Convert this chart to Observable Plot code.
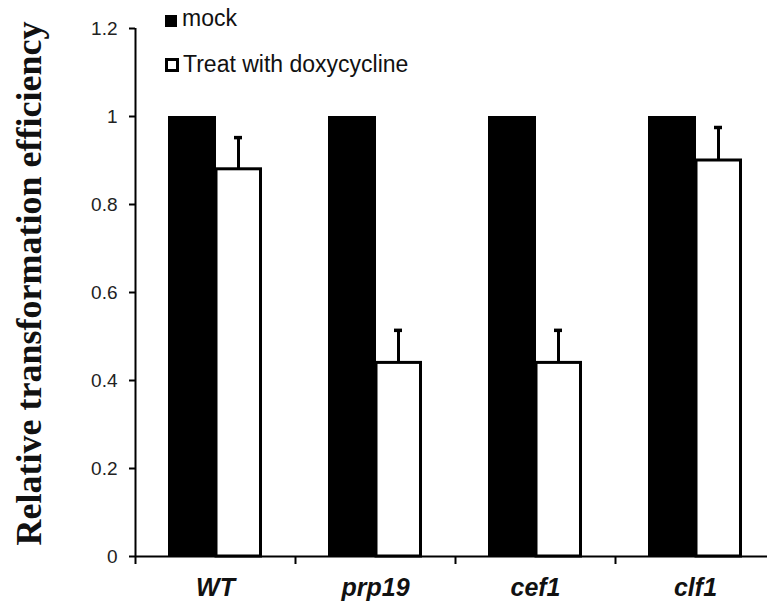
<!DOCTYPE html>
<html><head><meta charset="utf-8">
<script src="https://cdn.jsdelivr.net/npm/d3@7"></script>
<script src="https://cdn.jsdelivr.net/npm/@observablehq/plot@0.6"></script>
<style>
body{margin:0;background:#fff}
#wrap{position:relative;width:767px;height:610px;overflow:hidden;background:#fff}
.lg{position:absolute;font-family:"Liberation Sans",Arial,sans-serif;font-size:23px;line-height:23px;color:#111;white-space:nowrap}
.sw{position:absolute;box-sizing:border-box}
</style></head><body><div id="wrap"></div>
<script>
const categories = ["WT", "prp19", "cef1", "clf1"];
const seriesNames = ["mock", "Treat with doxycycline"];
const mockValues = [1, 1, 1, 1];
const doxValues = [0.88, 0.44, 0.44, 0.90];
const doxErrors = [0.072, 0.074, 0.074, 0.075];
const yTicks = [0, 0.2, 0.4, 0.6, 0.8, 1, 1.2];
const yTickLabels = ["0", "0.2", "0.4", "0.6", "0.8", "1", "1.2"];
const yLabel = "Relative transformation efficiency";

const rows = categories.map((c, i) => ({cat: c, mock: mockValues[i], dox: doxValues[i], err: doxErrors[i]}));

const chart = Plot.plot({
  width: 767, height: 610,
  marginLeft: 135, marginRight: 0, marginTop: 28, marginBottom: 54,
  x: {domain: categories, range: [135, 775], padding: 0},
  y: {domain: [0, 1.2]},
  style: {fontFamily: "'Liberation Sans', Arial, sans-serif", background: "white", overflow: "hidden"},
  marks: [
    Plot.barY(rows, {x: "cat", y: "mock", fill: "black", insetLeft: 33, insetRight: 79}),
    Plot.barY(rows, {x: "cat", y: "dox", fill: "white", stroke: "black", strokeWidth: 3, insetLeft: 81, insetRight: 34.5}),
    Plot.ruleX(rows, {x: "cat", y1: "dox", y2: d => d.dox + d.err, dx: 23, stroke: "black", strokeWidth: 3}),
    Plot.tickY(rows, {x: "cat", y: d => d.dox + d.err, insetLeft: 99, insetRight: 53, stroke: "black", strokeWidth: 3.5}),
    Plot.ruleY([0], {stroke: "black", strokeWidth: 2}),
    Plot.ruleX([categories[0]], {x: d => d, dx: -80, y1: 0, y2: 1.2, stroke: "black", strokeWidth: 2}),
    Plot.axisY({ticks: yTicks, tickFormat: d => yTickLabels[yTicks.indexOf(d)], tickSize: 6, tickPadding: 12, fontSize: 19, strokeWidth: 2, stroke: "black", fill: "#222", label: null}),
    Plot.axisX({tickSize: 8, tickFormat: () => "", dx: -80, strokeWidth: 2, stroke: "black", label: null}),
    Plot.axisX({tickSize: 0, tickPadding: 22, fontSize: 25, fontWeight: "bold", fontStyle: "italic", fill: "#111", label: null}),
    Plot.text([yLabel], {text: d => d, frameAnchor: "left", rotate: -90, dx: -106, dy: -9, fontSize: 36, fontWeight: "bold", fontFamily: "'Liberation Serif', 'Times New Roman', serif", fill: "#111", textAnchor: "middle", lineAnchor: "middle"})
  ]
});

const wrap = document.getElementById("wrap");
wrap.appendChild(chart);

const sw1 = document.createElement("div");
sw1.className = "sw";
Object.assign(sw1.style, {left: "165px", top: "15px", width: "12px", height: "12px", background: "black"});
wrap.appendChild(sw1);
const t1 = document.createElement("div");
t1.className = "lg";
Object.assign(t1.style, {left: "182px", top: "7px"});
t1.textContent = seriesNames[0];
wrap.appendChild(t1);

const sw2 = document.createElement("div");
sw2.className = "sw";
Object.assign(sw2.style, {left: "165px", top: "58px", width: "14px", height: "14px", background: "white", border: "3px solid black"});
wrap.appendChild(sw2);
const t2 = document.createElement("div");
t2.className = "lg";
Object.assign(t2.style, {left: "183px", top: "53px"});
t2.textContent = seriesNames[1];
wrap.appendChild(t2);
</script></body></html>
